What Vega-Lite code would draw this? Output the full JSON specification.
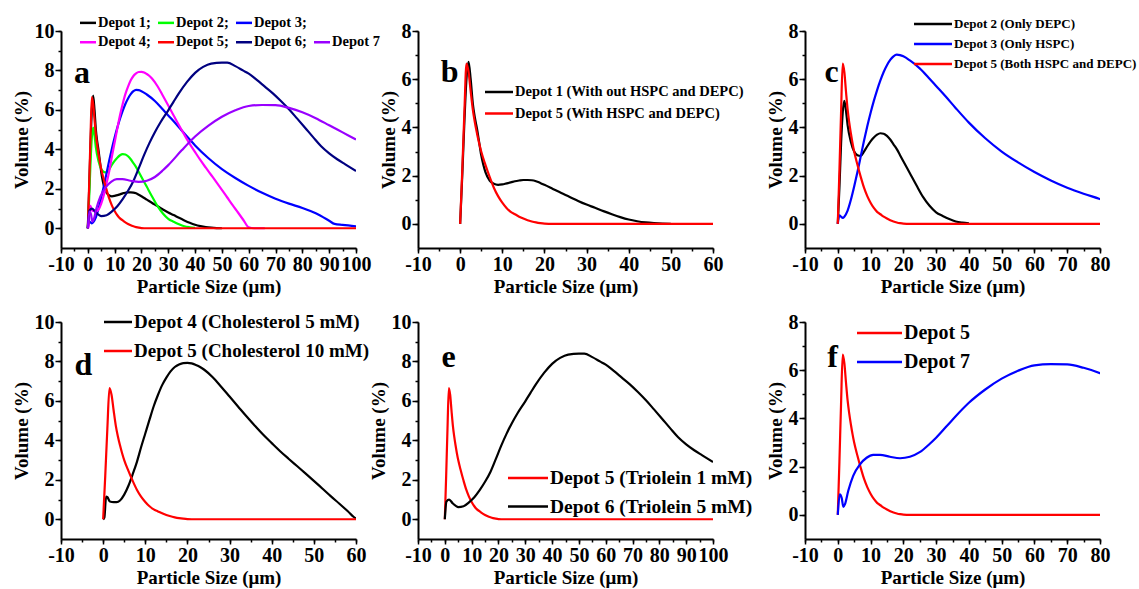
{
 "$schema": "https://vega.github.io/schema/vega-lite/v6.json",
 "autosize": {"type": "none"},
 "padding": {"left": 61, "top": 31, "right": 1078, "bottom": 558},
 "background": "white",
 "columns": 5,
 "bounds": "flush",
 "align": "each",
 "spacing": {"row": 74, "column": 0},
 "resolve": {"scale": {"color": "independent"}, "legend": {"color": "independent"}},
 "datasets": {
  "curves": [
   {"depot":"Depot 1","x":0,"y":0},{"depot":"Depot 1","x":0.5,"y":2.0},{"depot":"Depot 1","x":1,"y":4.2},{"depot":"Depot 1","x":1.5,"y":6.0},{"depot":"Depot 1","x":2,"y":6.72},{"depot":"Depot 1","x":2.5,"y":6.0},{"depot":"Depot 1","x":3,"y":5.0},{"depot":"Depot 1","x":3.5,"y":4.4},{"depot":"Depot 1","x":4,"y":3.95},{"depot":"Depot 1","x":4.5,"y":3.4},{"depot":"Depot 1","x":5,"y":2.85},{"depot":"Depot 1","x":5.5,"y":2.45},{"depot":"Depot 1","x":6,"y":2.15},{"depot":"Depot 1","x":7,"y":1.8},{"depot":"Depot 1","x":8,"y":1.66},{"depot":"Depot 1","x":9,"y":1.62},{"depot":"Depot 1","x":10,"y":1.64},{"depot":"Depot 1","x":11,"y":1.68},{"depot":"Depot 1","x":12,"y":1.72},{"depot":"Depot 1","x":13,"y":1.77},{"depot":"Depot 1","x":14,"y":1.8},{"depot":"Depot 1","x":15,"y":1.82},{"depot":"Depot 1","x":16,"y":1.82},{"depot":"Depot 1","x":17,"y":1.81},{"depot":"Depot 1","x":18,"y":1.77},{"depot":"Depot 1","x":19,"y":1.7},{"depot":"Depot 1","x":20,"y":1.62},{"depot":"Depot 1","x":22,"y":1.45},{"depot":"Depot 1","x":24,"y":1.28},{"depot":"Depot 1","x":26,"y":1.12},{"depot":"Depot 1","x":28,"y":0.95},{"depot":"Depot 1","x":30,"y":0.8},{"depot":"Depot 1","x":32,"y":0.67},{"depot":"Depot 1","x":34,"y":0.53},{"depot":"Depot 1","x":36,"y":0.4},{"depot":"Depot 1","x":38,"y":0.28},{"depot":"Depot 1","x":40,"y":0.18},{"depot":"Depot 1","x":42,"y":0.11},{"depot":"Depot 1","x":44,"y":0.06},{"depot":"Depot 1","x":46,"y":0.03},{"depot":"Depot 1","x":48,"y":0.01},{"depot":"Depot 1","x":50,"y":0},
   {"depot":"Depot 2","x":0,"y":0},{"depot":"Depot 2","x":0.5,"y":1.5},{"depot":"Depot 2","x":1,"y":3.3},{"depot":"Depot 2","x":1.5,"y":4.6},{"depot":"Depot 2","x":2,"y":5.1},{"depot":"Depot 2","x":2.5,"y":4.7},{"depot":"Depot 2","x":3,"y":4.1},{"depot":"Depot 2","x":4,"y":3.4},{"depot":"Depot 2","x":5,"y":3.0},{"depot":"Depot 2","x":6,"y":2.85},{"depot":"Depot 2","x":7,"y":2.82},{"depot":"Depot 2","x":8,"y":3.0},{"depot":"Depot 2","x":9,"y":3.22},{"depot":"Depot 2","x":10,"y":3.42},{"depot":"Depot 2","x":11,"y":3.58},{"depot":"Depot 2","x":12,"y":3.7},{"depot":"Depot 2","x":13,"y":3.76},{"depot":"Depot 2","x":14,"y":3.74},{"depot":"Depot 2","x":15,"y":3.65},{"depot":"Depot 2","x":16,"y":3.5},{"depot":"Depot 2","x":17,"y":3.3},{"depot":"Depot 2","x":18,"y":3.1},{"depot":"Depot 2","x":19,"y":2.85},{"depot":"Depot 2","x":20,"y":2.6},{"depot":"Depot 2","x":22,"y":2.1},{"depot":"Depot 2","x":24,"y":1.6},{"depot":"Depot 2","x":26,"y":1.12},{"depot":"Depot 2","x":28,"y":0.75},{"depot":"Depot 2","x":30,"y":0.48},{"depot":"Depot 2","x":32,"y":0.33},{"depot":"Depot 2","x":34,"y":0.2},{"depot":"Depot 2","x":36,"y":0.1},{"depot":"Depot 2","x":38,"y":0.05},{"depot":"Depot 2","x":40,"y":0.02},
   {"depot":"Depot 3","x":0,"y":0},{"depot":"Depot 3","x":0.5,"y":0.35},{"depot":"Depot 3","x":1,"y":0.3},{"depot":"Depot 3","x":1.5,"y":0.25},{"depot":"Depot 3","x":2,"y":0.3},{"depot":"Depot 3","x":3,"y":0.55},{"depot":"Depot 3","x":4,"y":1.0},{"depot":"Depot 3","x":5,"y":1.55},{"depot":"Depot 3","x":6,"y":2.15},{"depot":"Depot 3","x":7,"y":2.8},{"depot":"Depot 3","x":8,"y":3.45},{"depot":"Depot 3","x":9,"y":4.05},{"depot":"Depot 3","x":10,"y":4.6},{"depot":"Depot 3","x":11,"y":5.1},{"depot":"Depot 3","x":12,"y":5.55},{"depot":"Depot 3","x":13,"y":5.95},{"depot":"Depot 3","x":14,"y":6.3},{"depot":"Depot 3","x":15,"y":6.58},{"depot":"Depot 3","x":16,"y":6.8},{"depot":"Depot 3","x":17,"y":6.95},{"depot":"Depot 3","x":18,"y":7.02},{"depot":"Depot 3","x":19,"y":7.0},{"depot":"Depot 3","x":20,"y":6.95},{"depot":"Depot 3","x":22,"y":6.78},{"depot":"Depot 3","x":25,"y":6.45},{"depot":"Depot 3","x":28,"y":6.02},{"depot":"Depot 3","x":30,"y":5.72},{"depot":"Depot 3","x":33,"y":5.27},{"depot":"Depot 3","x":36,"y":4.8},{"depot":"Depot 3","x":40,"y":4.2},{"depot":"Depot 3","x":45,"y":3.55},{"depot":"Depot 3","x":50,"y":3.0},{"depot":"Depot 3","x":55,"y":2.55},{"depot":"Depot 3","x":60,"y":2.15},{"depot":"Depot 3","x":65,"y":1.8},{"depot":"Depot 3","x":70,"y":1.5},{"depot":"Depot 3","x":75,"y":1.25},{"depot":"Depot 3","x":80,"y":1.03},{"depot":"Depot 3","x":85,"y":0.76},{"depot":"Depot 3","x":90,"y":0.38},{"depot":"Depot 3","x":92,"y":0.22},{"depot":"Depot 3","x":95,"y":0.17},{"depot":"Depot 3","x":100,"y":0.1},
   {"depot":"Depot 4","x":0,"y":0},{"depot":"Depot 4","x":0.3,"y":0.1},{"depot":"Depot 4","x":0.7,"y":1.15},{"depot":"Depot 4","x":1,"y":1.12},{"depot":"Depot 4","x":1.6,"y":0.9},{"depot":"Depot 4","x":2.5,"y":0.87},{"depot":"Depot 4","x":3.2,"y":0.87},{"depot":"Depot 4","x":4,"y":0.95},{"depot":"Depot 4","x":5,"y":1.25},{"depot":"Depot 4","x":6,"y":1.7},{"depot":"Depot 4","x":7,"y":2.28},{"depot":"Depot 4","x":8,"y":2.9},{"depot":"Depot 4","x":9,"y":3.65},{"depot":"Depot 4","x":10,"y":4.35},{"depot":"Depot 4","x":11,"y":5.05},{"depot":"Depot 4","x":12,"y":5.73},{"depot":"Depot 4","x":13,"y":6.3},{"depot":"Depot 4","x":14,"y":6.8},{"depot":"Depot 4","x":15,"y":7.18},{"depot":"Depot 4","x":16,"y":7.5},{"depot":"Depot 4","x":17,"y":7.72},{"depot":"Depot 4","x":18,"y":7.85},{"depot":"Depot 4","x":19,"y":7.92},{"depot":"Depot 4","x":20,"y":7.93},{"depot":"Depot 4","x":21,"y":7.9},{"depot":"Depot 4","x":22,"y":7.82},{"depot":"Depot 4","x":23,"y":7.72},{"depot":"Depot 4","x":24,"y":7.58},{"depot":"Depot 4","x":26,"y":7.2},{"depot":"Depot 4","x":28,"y":6.72},{"depot":"Depot 4","x":30,"y":6.22},{"depot":"Depot 4","x":32,"y":5.72},{"depot":"Depot 4","x":34,"y":5.22},{"depot":"Depot 4","x":36,"y":4.74},{"depot":"Depot 4","x":38,"y":4.28},{"depot":"Depot 4","x":40,"y":3.86},{"depot":"Depot 4","x":42,"y":3.45},{"depot":"Depot 4","x":44,"y":3.07},{"depot":"Depot 4","x":46,"y":2.7},{"depot":"Depot 4","x":48,"y":2.33},{"depot":"Depot 4","x":50,"y":1.95},{"depot":"Depot 4","x":52,"y":1.56},{"depot":"Depot 4","x":54,"y":1.17},{"depot":"Depot 4","x":56,"y":0.8},{"depot":"Depot 4","x":58,"y":0.42},{"depot":"Depot 4","x":60,"y":0.05},{"depot":"Depot 4","x":62,"y":0},{"depot":"Depot 4","x":66,"y":0},
   {"depot":"Depot 5","x":0,"y":0},{"depot":"Depot 5","x":0.5,"y":2.2},{"depot":"Depot 5","x":1,"y":4.6},{"depot":"Depot 5","x":1.5,"y":6.65},{"depot":"Depot 5","x":2,"y":6.3},{"depot":"Depot 5","x":2.5,"y":5.5},{"depot":"Depot 5","x":3,"y":4.75},{"depot":"Depot 5","x":3.5,"y":4.2},{"depot":"Depot 5","x":4,"y":3.75},{"depot":"Depot 5","x":4.5,"y":3.35},{"depot":"Depot 5","x":5,"y":3.0},{"depot":"Depot 5","x":6,"y":2.45},{"depot":"Depot 5","x":7,"y":1.95},{"depot":"Depot 5","x":8,"y":1.5},{"depot":"Depot 5","x":9,"y":1.15},{"depot":"Depot 5","x":10,"y":0.88},{"depot":"Depot 5","x":11,"y":0.66},{"depot":"Depot 5","x":12,"y":0.5},{"depot":"Depot 5","x":13,"y":0.4},{"depot":"Depot 5","x":14,"y":0.3},{"depot":"Depot 5","x":15,"y":0.22},{"depot":"Depot 5","x":16,"y":0.15},{"depot":"Depot 5","x":17,"y":0.1},{"depot":"Depot 5","x":18,"y":0.06},{"depot":"Depot 5","x":19,"y":0.03},{"depot":"Depot 5","x":20,"y":0.01},{"depot":"Depot 5","x":22,"y":0},{"depot":"Depot 5","x":40,"y":0},{"depot":"Depot 5","x":60,"y":0},{"depot":"Depot 5","x":80,"y":0},{"depot":"Depot 5","x":100,"y":0},
   {"depot":"Depot 6","x":0,"y":0},{"depot":"Depot 6","x":0.6,"y":0.9},{"depot":"Depot 6","x":1.6,"y":1.0},{"depot":"Depot 6","x":3,"y":0.8},{"depot":"Depot 6","x":5,"y":0.62},{"depot":"Depot 6","x":7,"y":0.66},{"depot":"Depot 6","x":9,"y":0.86},{"depot":"Depot 6","x":11,"y":1.12},{"depot":"Depot 6","x":13,"y":1.48},{"depot":"Depot 6","x":15,"y":1.9},{"depot":"Depot 6","x":17,"y":2.4},{"depot":"Depot 6","x":19,"y":3.05},{"depot":"Depot 6","x":21,"y":3.72},{"depot":"Depot 6","x":23,"y":4.33},{"depot":"Depot 6","x":25,"y":4.87},{"depot":"Depot 6","x":27,"y":5.35},{"depot":"Depot 6","x":30,"y":5.98},{"depot":"Depot 6","x":32,"y":6.42},{"depot":"Depot 6","x":34,"y":6.85},{"depot":"Depot 6","x":37,"y":7.42},{"depot":"Depot 6","x":40,"y":7.88},{"depot":"Depot 6","x":43,"y":8.18},{"depot":"Depot 6","x":46,"y":8.35},{"depot":"Depot 6","x":50,"y":8.4},{"depot":"Depot 6","x":52,"y":8.4},{"depot":"Depot 6","x":55,"y":8.22},{"depot":"Depot 6","x":58,"y":7.99},{"depot":"Depot 6","x":60,"y":7.84},{"depot":"Depot 6","x":63,"y":7.52},{"depot":"Depot 6","x":66,"y":7.18},{"depot":"Depot 6","x":69,"y":6.84},{"depot":"Depot 6","x":72,"y":6.45},{"depot":"Depot 6","x":75,"y":6.03},{"depot":"Depot 6","x":78,"y":5.57},{"depot":"Depot 6","x":81,"y":5.1},{"depot":"Depot 6","x":84,"y":4.62},{"depot":"Depot 6","x":87,"y":4.16},{"depot":"Depot 6","x":90,"y":3.8},{"depot":"Depot 6","x":93,"y":3.5},{"depot":"Depot 6","x":96,"y":3.24},{"depot":"Depot 6","x":100,"y":2.9},
   {"depot":"Depot 7","x":0,"y":0},{"depot":"Depot 7","x":0.6,"y":0.85},{"depot":"Depot 7","x":1.2,"y":0.7},{"depot":"Depot 7","x":1.7,"y":0.33},{"depot":"Depot 7","x":2.2,"y":0.45},{"depot":"Depot 7","x":3.2,"y":1.0},{"depot":"Depot 7","x":4.7,"y":1.62},{"depot":"Depot 7","x":6.8,"y":2.1},{"depot":"Depot 7","x":8.8,"y":2.37},{"depot":"Depot 7","x":10.8,"y":2.49},{"depot":"Depot 7","x":12.9,"y":2.49},{"depot":"Depot 7","x":15.9,"y":2.41},{"depot":"Depot 7","x":19,"y":2.35},{"depot":"Depot 7","x":22,"y":2.41},{"depot":"Depot 7","x":25,"y":2.6},{"depot":"Depot 7","x":28,"y":2.94},{"depot":"Depot 7","x":30,"y":3.2},{"depot":"Depot 7","x":35,"y":3.95},{"depot":"Depot 7","x":40,"y":4.65},{"depot":"Depot 7","x":45,"y":5.2},{"depot":"Depot 7","x":50,"y":5.65},{"depot":"Depot 7","x":55,"y":5.98},{"depot":"Depot 7","x":60,"y":6.2},{"depot":"Depot 7","x":65,"y":6.25},{"depot":"Depot 7","x":70,"y":6.24},{"depot":"Depot 7","x":75,"y":6.1},{"depot":"Depot 7","x":80,"y":5.88},{"depot":"Depot 7","x":85,"y":5.58},{"depot":"Depot 7","x":90,"y":5.22},{"depot":"Depot 7","x":95,"y":4.86},{"depot":"Depot 7","x":100,"y":4.5}
  ]
 },
 "concat": [
  {
   "width": 295, "height": 217,
   "resolve": {"axis": {"x": "independent", "y": "independent"}},
   "layer": [
    {
     "data": {"name": "curves"},
     "mark": {"type": "line", "clip": true, "strokeWidth": 2.2, "interpolate": "monotone"},
     "encoding": {
      "x": {"field": "x", "type": "quantitative", "scale": {"domain": [-10, 100], "nice": false, "zero": false},
            "axis": {"title": "Particle Size (μm)", "orient": "bottom", "values": [-10,0,10,20,30,40,50,60,70,80,90,100], "labelOverlap": false, "labelFlush": false, "tickSize": 5,
                     "labelExpr": "datum.value < 0 ? '-' + (-datum.value) : '' + datum.value"}},
      "y": {"field": "y", "type": "quantitative", "scale": {"domain": [-1, 10], "nice": false, "zero": false},
            "axis": {"title": "Volume (%)", "orient": "left", "values": [0,2,4,6,8,10], "labelOverlap": false, "tickSize": 6}},
      "color": {"field": "depot", "type": "nominal",
                "scale": {"domain": ["Depot 1","Depot 2","Depot 3"," ","Depot 4","Depot 5","Depot 6","Depot 7"],
                          "range": ["#000000","#00ff00","#0000ff","rgba(0,0,0,0)","#ff00ff","#ff0000","#000080","#9900ff"]},
                "legend": {"orient": "none", "direction": "horizontal", "legendX": 19, "legendY": -15.5, "columns": 4, "title": null,
                           "labelFontSize": 14.5, "symbolType": "M-1.391,0H1.391", "symbolSize": 132, "symbolOffset": 0.75,
                           "labelOffset": 2.75, "rowPadding": 4.5, "columnPadding": 2,
                           "labelExpr": "datum.label === 'Depot 7' || datum.label === ' ' ? datum.label : datum.label + ';'"}}
     }
    },
    {
     "data": {"values": [{}]},
     "mark": {"type": "text", "font": "Liberation Serif", "fontWeight": "bold", "fontSize": 32, "align": "center", "baseline": "alphabetic", "color": "black"},
     "encoding": {
      "x": {"datum": -2.17, "axis": {"orient": "bottom", "title": null, "labels": false, "domain": false, "tickSize": 3, "values": [-10,-5,0,5,10,15,20,25,30,35,40,45,50,55,60,65,70,75,80,85,90,95,100]}},
      "y": {"datum": 7.37, "axis": {"orient": "left", "title": null, "labels": false, "domain": false, "tickSize": 3, "values": [0,1,2,3,4,5,6,7,8,9,10]}},
      "text": {"value": "a"}}
    }
   ]
  },
  {"width": 62, "height": 217, "data": {"values": [{}]}, "mark": {"type": "point", "opacity": 0}},
  {
   "width": 295, "height": 217,
   "resolve": {"axis": {"x": "independent", "y": "independent"}},
   "layer": [
    {
     "data": {"name": "curves"},
     "transform": [{"filter": {"field": "depot", "oneOf": ["Depot 1", "Depot 5"]}}],
     "mark": {"type": "line", "clip": true, "strokeWidth": 2.2, "interpolate": "monotone"},
     "encoding": {
      "x": {"field": "x", "type": "quantitative", "scale": {"domain": [-10, 60], "nice": false, "zero": false},
            "axis": {"title": "Particle Size (μm)", "orient": "bottom", "values": [-10,0,10,20,30,40,50,60], "labelOverlap": false, "labelFlush": false, "tickSize": 5,
                     "labelExpr": "datum.value < 0 ? '-' + (-datum.value) : '' + datum.value"}},
      "y": {"field": "y", "type": "quantitative", "scale": {"domain": [-1, 8], "nice": false, "zero": false},
            "axis": {"title": "Volume (%)", "orient": "left", "values": [0,2,4,6,8], "labelOverlap": false, "tickSize": 6}},
      "color": {"field": "depot", "type": "nominal",
                "scale": {"domain": ["Depot 1","Depot 5"], "range": ["#000000","#ff0000"]},
                "legend": {"orient": "none", "legendX": 67, "legendY": 53.75, "title": null,
                           "labelFontSize": 14.5, "symbolType": "M-2.435,0H2.435", "symbolSize": 132, "symbolOffset": 6.75,
                           "labelOffset": 8.75, "rowPadding": 6.5,
                           "labelExpr": "datum.label === 'Depot 1' ? 'Depot 1 (With out HSPC and DEPC)' : 'Depot 5 (With HSPC and DEPC)'"}}
     }
    },
    {
     "data": {"values": [{}]},
     "mark": {"type": "text", "font": "Liberation Serif", "fontWeight": "bold", "fontSize": 32, "align": "center", "baseline": "alphabetic", "color": "black"},
     "encoding": {
      "x": {"datum": -2.52, "axis": {"orient": "bottom", "title": null, "labels": false, "domain": false, "tickSize": 3, "values": [-10,-5,0,5,10,15,20,25,30,35,40,45,50,55,60]}},
      "y": {"datum": 5.89, "axis": {"orient": "left", "title": null, "labels": false, "domain": false, "tickSize": 3, "values": [0,1,2,3,4,5,6,7,8]}},
      "text": {"value": "b"}}
    }
   ]
  },
  {"width": 92, "height": 217, "data": {"values": [{}]}, "mark": {"type": "point", "opacity": 0}},
  {
   "width": 295, "height": 217,
   "resolve": {"axis": {"x": "independent", "y": "independent"}},
   "layer": [
    {
     "data": {"name": "curves"},
     "transform": [{"filter": {"field": "depot", "oneOf": ["Depot 2", "Depot 3", "Depot 5"]}}],
     "mark": {"type": "line", "clip": true, "strokeWidth": 2.2, "interpolate": "monotone"},
     "encoding": {
      "x": {"field": "x", "type": "quantitative", "scale": {"domain": [-10, 80], "nice": false, "zero": false},
            "axis": {"title": "Particle Size (μm)", "orient": "bottom", "values": [-10,0,10,20,30,40,50,60,70,80], "labelOverlap": false, "labelFlush": false, "tickSize": 5,
                     "labelExpr": "datum.value < 0 ? '-' + (-datum.value) : '' + datum.value"}},
      "y": {"field": "y", "type": "quantitative", "scale": {"domain": [-1, 8], "nice": false, "zero": false},
            "axis": {"title": "Volume (%)", "orient": "left", "values": [0,2,4,6,8], "labelOverlap": false, "tickSize": 6}},
      "color": {"field": "depot", "type": "nominal",
                "scale": {"domain": ["Depot 2","Depot 3","Depot 5"], "range": ["#000000","#0000ff","#ff0000"]},
                "legend": {"orient": "none", "legendX": 109, "legendY": -13.5, "title": null,
                           "labelFontSize": 13, "symbolType": "M-3.619,0H3.619", "symbolSize": 110, "symbolOffset": 12.5,
                           "labelOffset": 14.5, "rowPadding": 6,
                           "labelExpr": "datum.label === 'Depot 2' ? 'Depot 2 (Only DEPC)' : datum.label === 'Depot 3' ? 'Depot 3 (Only HSPC)' : 'Depot 5 (Both HSPC and DEPC)'"}}
     }
    },
    {
     "data": {"values": [{}]},
     "mark": {"type": "text", "font": "Liberation Serif", "fontWeight": "bold", "fontSize": 32, "align": "center", "baseline": "alphabetic", "color": "black"},
     "encoding": {
      "x": {"datum": -1.92, "axis": {"orient": "bottom", "title": null, "labels": false, "domain": false, "tickSize": 3, "values": [-10,-5,0,5,10,15,20,25,30,35,40,45,50,55,60,65,70,75,80]}},
      "y": {"datum": 5.89, "axis": {"orient": "left", "title": null, "labels": false, "domain": false, "tickSize": 3, "values": [0,1,2,3,4,5,6,7,8]}},
      "text": {"value": "c"}}
    }
   ]
  },
  {
   "width": 295, "height": 217,
   "resolve": {"axis": {"x": "independent", "y": "independent"}},
   "layer": [
    {
     "data": {"name": "curves"},
     "transform": [{"filter": {"field": "depot", "oneOf": ["Depot 4", "Depot 5"]}}],
     "mark": {"type": "line", "clip": true, "strokeWidth": 2.2, "interpolate": "monotone"},
     "encoding": {
      "x": {"field": "x", "type": "quantitative", "scale": {"domain": [-10, 60], "nice": false, "zero": false},
            "axis": {"title": "Particle Size (μm)", "orient": "bottom", "values": [-10,0,10,20,30,40,50,60], "labelOverlap": false, "labelFlush": false, "tickSize": 5,
                     "labelExpr": "datum.value < 0 ? '-' + (-datum.value) : '' + datum.value"}},
      "y": {"field": "y", "type": "quantitative", "scale": {"domain": [-1, 10], "nice": false, "zero": false},
            "axis": {"title": "Volume (%)", "orient": "left", "values": [0,2,4,6,8,10], "labelOverlap": false, "tickSize": 6}},
      "color": {"field": "depot", "type": "nominal",
                "scale": {"domain": ["Depot 4","Depot 5"], "range": ["#000000","#ff0000"]},
                "legend": {"orient": "none", "legendX": 43, "legendY": -9.5, "title": null,
                           "labelFontSize": 19, "symbolType": "M-1.75,0H1.75", "symbolSize": 256, "symbolOffset": 4.5,
                           "labelOffset": 6.5, "rowPadding": 9,
                           "labelExpr": "datum.label === 'Depot 4' ? 'Depot 4 (Cholesterol 5 mM)' : 'Depot 5 (Cholesterol 10 mM)'"}}
     }
    },
    {
     "data": {"values": [{}]},
     "mark": {"type": "text", "font": "Liberation Serif", "fontWeight": "bold", "fontSize": 32, "align": "center", "baseline": "alphabetic", "color": "black"},
     "encoding": {
      "x": {"datum": -4.66, "axis": {"orient": "bottom", "title": null, "labels": false, "domain": false, "tickSize": 3, "values": [-10,-5,0,5,10,15,20,25,30,35,40,45,50,55,60]}},
      "y": {"datum": 7.31, "axis": {"orient": "left", "title": null, "labels": false, "domain": false, "tickSize": 3, "values": [0,1,2,3,4,5,6,7,8,9,10]}},
      "text": {"value": "d"}}
    }
   ]
  },
  {"width": 62, "height": 217, "data": {"values": [{}]}, "mark": {"type": "point", "opacity": 0}},
  {
   "width": 295, "height": 217,
   "resolve": {"axis": {"x": "independent", "y": "independent"}},
   "layer": [
    {
     "data": {"name": "curves"},
     "transform": [{"filter": {"field": "depot", "oneOf": ["Depot 5", "Depot 6"]}}],
     "mark": {"type": "line", "clip": true, "strokeWidth": 2.2, "interpolate": "monotone"},
     "encoding": {
      "x": {"field": "x", "type": "quantitative", "scale": {"domain": [-10, 100], "nice": false, "zero": false},
            "axis": {"title": "Particle Size (μm)", "orient": "bottom", "values": [-10,0,10,20,30,40,50,60,70,80,90,100], "labelOverlap": false, "labelFlush": false, "tickSize": 5,
                     "labelExpr": "datum.value < 0 ? '-' + (-datum.value) : '' + datum.value"}},
      "y": {"field": "y", "type": "quantitative", "scale": {"domain": [-1, 10], "nice": false, "zero": false},
            "axis": {"title": "Volume (%)", "orient": "left", "values": [0,2,4,6,8,10], "labelOverlap": false, "tickSize": 6}},
      "color": {"field": "depot", "type": "nominal",
                "scale": {"domain": ["Depot 5","Depot 6"], "range": ["#ff0000","#000000"]},
                "legend": {"orient": "none", "legendX": 90, "legendY": 146.25, "title": null,
                           "labelFontSize": 19.5, "symbolType": "M-2.5,0H2.5", "symbolSize": 256, "symbolOffset": 10.25,
                           "labelOffset": 12.25, "rowPadding": 7.5,
                           "labelExpr": "datum.label === 'Depot 5' ? 'Depot 5 (Triolein 1 mM)' : 'Depot 6 (Triolein 5 mM)'"}}
     }
    },
    {
     "data": {"values": [{}]},
     "mark": {"type": "text", "font": "Liberation Serif", "fontWeight": "bold", "fontSize": 32, "align": "center", "baseline": "alphabetic", "color": "black"},
     "encoding": {
      "x": {"datum": 1.37, "axis": {"orient": "bottom", "title": null, "labels": false, "domain": false, "tickSize": 3, "values": [-10,-5,0,5,10,15,20,25,30,35,40,45,50,55,60,65,70,75,80,85,90,95,100]}},
      "y": {"datum": 7.72, "axis": {"orient": "left", "title": null, "labels": false, "domain": false, "tickSize": 3, "values": [0,1,2,3,4,5,6,7,8,9,10]}},
      "text": {"value": "e"}}
    }
   ]
  },
  {"width": 92, "height": 217, "data": {"values": [{}]}, "mark": {"type": "point", "opacity": 0}},
  {
   "width": 295, "height": 217,
   "resolve": {"axis": {"x": "independent", "y": "independent"}},
   "layer": [
    {
     "data": {"name": "curves"},
     "transform": [{"filter": {"field": "depot", "oneOf": ["Depot 5", "Depot 7"]}}],
     "mark": {"type": "line", "clip": true, "strokeWidth": 2.2, "interpolate": "monotone"},
     "encoding": {
      "x": {"field": "x", "type": "quantitative", "scale": {"domain": [-10, 80], "nice": false, "zero": false},
            "axis": {"title": "Particle Size (μm)", "orient": "bottom", "values": [-10,0,10,20,30,40,50,60,70,80], "labelOverlap": false, "labelFlush": false, "tickSize": 5,
                     "labelExpr": "datum.value < 0 ? '-' + (-datum.value) : '' + datum.value"}},
      "y": {"field": "y", "type": "quantitative", "scale": {"domain": [-1, 8], "nice": false, "zero": false},
            "axis": {"title": "Volume (%)", "orient": "left", "values": [0,2,4,6,8], "labelOverlap": false, "tickSize": 6}},
      "color": {"field": "depot", "type": "nominal",
                "scale": {"domain": ["Depot 5","Depot 7"], "range": ["#ff0000","#0000ff"]},
                "legend": {"orient": "none", "legendX": 52, "legendY": 1, "title": null,
                           "labelFontSize": 20, "symbolType": "M-2.647,0H2.647", "symbolSize": 289, "symbolOffset": 12.5,
                           "labelOffset": 14.5, "rowPadding": 9}}
     }
    },
    {
     "data": {"values": [{}]},
     "mark": {"type": "text", "font": "Liberation Serif", "fontWeight": "bold", "fontSize": 32, "align": "center", "baseline": "alphabetic", "color": "black"},
     "encoding": {
      "x": {"datum": -1.61, "axis": {"orient": "bottom", "title": null, "labels": false, "domain": false, "tickSize": 3, "values": [-10,-5,0,5,10,15,20,25,30,35,40,45,50,55,60,65,70,75,80]}},
      "y": {"datum": 6.15, "axis": {"orient": "left", "title": null, "labels": false, "domain": false, "tickSize": 3, "values": [0,1,2,3,4,5,6,7,8]}},
      "text": {"value": "f"}}
    }
   ]
  }
 ],
 "config": {
  "view": {"stroke": null},
  "font": "Liberation Serif",
  "axis": {
   "domainColor": "black", "domainWidth": 2, "tickColor": "black", "tickWidth": 1.5,
   "labelFont": "Liberation Serif", "labelFontWeight": "bold", "labelFontSize": 20, "labelColor": "black",
   "titleFont": "Liberation Serif", "titleFontWeight": "bold", "titleFontSize": 19, "titleColor": "black",
   "grid": false, "labelOverlap": false, "labelFlush": false, "labelPadding": 1, "titlePadding": 3
  },
  "legend": {
   "labelFont": "Liberation Serif", "labelFontWeight": "bold", "labelColor": "black",
   "padding": 0, "labelLimit": 500, "symbolStrokeWidth": 2.5, "symbolFillColor": "transparent"
  }
 }
}
